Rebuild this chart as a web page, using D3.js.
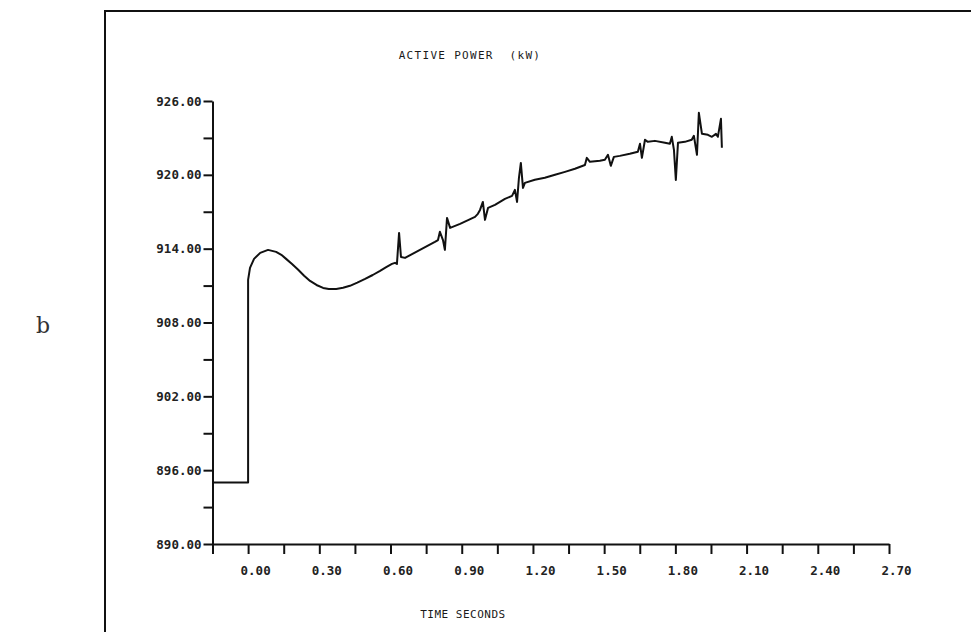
<!DOCTYPE html>
<html>
    <head>
        <title>ACTIVE POWER (kW)</title>
        <meta charset="utf-8" />
        <script src="https://d3js.org/d3.v7.min.js"></script>
        <style>
            body { margin: 0; background: #fff; }
            text { font-family: "DejaVu Sans Mono", monospace; fill: #1a1a1a; }
        </style>
    </head>
    <body>
        <div id="canvas"></div>

        <script type="text/javascript">
            // time (s) and active power (kW)
            var times = [-0.15, 0.0, 0.0, 0.008, 0.025, 0.051, 0.084, 0.118, 0.140, 0.160, 0.185, 0.211, 0.236, 0.261, 0.288, 0.316, 0.340, 0.371, 0.400, 0.429, 0.460, 0.493, 0.525, 0.556, 0.580, 0.606, 0.619, 0.627, 0.636, 0.644, 0.661, 0.724, 0.787, 0.800, 0.808, 0.821, 0.829, 0.838, 0.851, 0.893, 0.956, 0.968, 0.977, 0.989, 0.998, 1.011, 1.040, 1.082, 1.112, 1.124, 1.133, 1.141, 1.149, 1.158, 1.166, 1.208, 1.250, 1.293, 1.335, 1.377, 1.419, 1.427, 1.440, 1.482, 1.503, 1.516, 1.528, 1.541, 1.566, 1.608, 1.642, 1.651, 1.659, 1.672, 1.684, 1.714, 1.756, 1.777, 1.785, 1.794, 1.802, 1.811, 1.840, 1.869, 1.878, 1.891, 1.899, 1.912, 1.937, 1.954, 1.971, 1.979, 1.992, 1.996];
            var power = [895.0, 895.0, 911.46, 912.44, 913.17, 913.66, 913.90, 913.74, 913.50, 913.17, 912.75, 912.28, 911.80, 911.38, 911.05, 910.81, 910.72, 910.73, 910.82, 910.98, 911.24, 911.54, 911.86, 912.20, 912.48, 912.76, 912.85, 912.76, 915.28, 913.33, 913.25, 913.90, 914.55, 914.70, 915.37, 914.70, 913.90, 916.50, 915.69, 916.02, 916.58, 916.83, 917.15, 917.80, 916.34, 917.32, 917.56, 918.05, 918.29, 918.78, 917.80, 919.76, 920.97, 918.94, 919.35, 919.60, 919.76, 920.00, 920.24, 920.49, 920.80, 921.38, 921.06, 921.14, 921.22, 921.63, 920.73, 921.46, 921.54, 921.71, 921.87, 922.52, 921.38, 922.85, 922.68, 922.76, 922.60, 922.52, 923.09, 922.03, 919.59, 922.60, 922.68, 922.85, 923.17, 921.63, 925.04, 923.33, 923.25, 923.09, 923.33, 923.09, 924.55, 922.20];

            var xTicks = [0.00, 0.30, 0.60, 0.90, 1.20, 1.50, 1.80, 2.10, 2.40, 2.70];
            var yTicks = [890, 896, 902, 908, 914, 920, 926];

            var title = "ACTIVE POWER  (kW)";
            var xTitle = "TIME SECONDS";
            var panel = "b";

            var svgWidth = 971;
            var svgHeight = 632;

            var svg = d3.select("#canvas")
                        .append("svg")
                        .attr("width", svgWidth)
                        .attr("height", svgHeight);

            // scales: -0.15 s sits on the y axis
            var x = d3.scaleLinear().domain([-0.15, 2.70]).range([212.5, 889]);
            var y = d3.scaleLinear().domain([890, 926]).range([544, 101]);

            // frame of the scanned page
            svg.append("path")
                .attr("d", "M105,632 L105,11 L971,11")
                .attr("fill", "none")
                .attr("stroke", "#111")
                .attr("stroke-width", 2);

            // minor ticks every half step
            var xMinor = d3.range(-0.15, 2.71, 0.15).map(function(v){ return Math.round(v * 100) / 100; });
            var yMinor = d3.range(890, 926.1, 3);

            var xAxis = svg.append("g")
                .attr("transform", "translate(0," + y(890) + ")")
                .call(d3.axisBottom(x)
                    .tickValues(xMinor)
                    .tickSize(10)
                    .tickSizeOuter(0)
                    .tickPadding(12)
                    .tickFormat(function(d){
                        return xTicks.some(function(t){ return Math.abs(t - d) < 1e-6; }) ? d3.format(".2f")(d) : "";
                    }));

            var yAxis = svg.append("g")
                .attr("transform", "translate(" + x(-0.15) + ",0)")
                .call(d3.axisLeft(y)
                    .tickValues(yMinor)
                    .tickSize(9)
                    .tickSizeOuter(0)
                    .tickPadding(2)
                    .tickFormat(function(d){
                        return yTicks.indexOf(d) >= 0 ? d3.format(".2f")(d) : "";
                    }));

            svg.selectAll(".domain, .tick line")
                .attr("stroke", "#111")
                .attr("stroke-width", 2);

            xAxis.selectAll("text")
                .attr("dx", 7)
                .style("font-size", "12.5px")
                .style("font-weight", "bold")
                .style("fill", "#222");

            yAxis.selectAll("text")
                .style("font-size", "12.5px")
                .style("font-weight", "bold")
                .style("fill", "#222");

            // the trace
            var pts = times.map(function(t, i){ return [t, power[i]]; });
            var line = d3.line()
                .x(function(d){ return x(d[0]); })
                .y(function(d){ return y(d[1]); });

            svg.append("path")
                .datum(pts)
                .attr("d", line)
                .attr("fill", "none")
                .attr("stroke", "#111")
                .attr("stroke-width", 2)
                .attr("stroke-linejoin", "round");

            // titles
            svg.append("text")
                .attr("x", 470)
                .attr("y", 59)
                .attr("text-anchor", "middle")
                .style("font-size", "11px")
                .style("letter-spacing", "1.3px")
                .style("white-space", "pre")
                .attr("xml:space", "preserve")
                .text(title);

            svg.append("text")
                .attr("x", 463)
                .attr("y", 618)
                .attr("text-anchor", "middle")
                .style("font-size", "11px")
                .style("letter-spacing", "0.5px")
                .text(xTitle);

            svg.append("text")
                .attr("x", 36)
                .attr("y", 333)
                .style("font-family", "'DejaVu Serif', 'Liberation Serif', serif")
                .style("font-size", "22px")
                .style("fill", "#333")
                .text(panel);
        </script>
    </body>
</html>
